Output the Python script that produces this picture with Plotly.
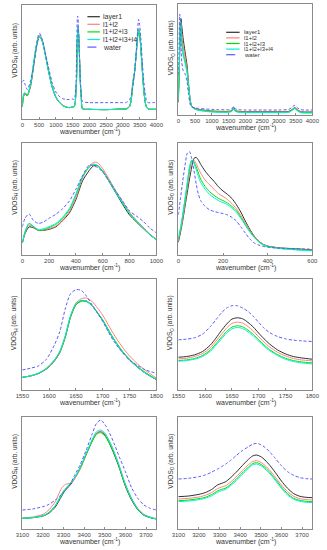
import plotly.graph_objects as go

W, H = 327, 550

SERIES = ["layer1", "l1+l2", "l1+l2+l3", "l1+l2+l3+l4", "water"]
COLORS = ["#2e2e2e", "#ff8080", "#00e000", "#00f0d8", "#5a5aff"]
DASHES = ["solid", "solid", "solid", "solid", "3px,2px"]

# ---------- Panel 1 : VDOS_H, 0-4000 ----------
H_FULL_X = [0, 40, 80, 150, 250, 350, 420, 480, 520, 600, 700, 800, 900, 1000, 1100, 1200, 1300, 1400, 1500, 1550,
            1580, 1600, 1617, 1629, 1640, 1650, 1660, 1670, 1682, 1700, 1718, 1736, 1760, 1800, 2000, 2500, 3000, 3100,
            3200, 3250, 3300, 3350, 3400, 3440, 3470, 3500, 3540, 3580, 3620, 3660, 3700, 3750, 3900, 4000]
H_FULL = {
    "layer1": [36, 68, 74, 70, 100, 168, 214, 240, 247, 232, 186, 134, 92, 65, 50, 41, 36, 34, 36, 38,
               50, 81, 111, 163, 225, 257, 275, 271, 250, 207, 149, 101, 65, 30, 29, 28, 30, 30,
               37, 56, 104, 138, 195, 244, 267, 256, 207, 148, 92, 55, 37, 30, 29, 29],
    "l1+l2": [36, 70, 76, 70, 103, 172, 220, 246, 252, 236, 190, 138, 95, 67, 52, 42, 36, 34, 36, 38,
              50, 82, 114, 167, 230, 262, 278, 274, 255, 213, 155, 106, 70, 33, 29, 28, 30, 30,
              39, 62, 116, 140, 193, 242, 266, 257, 212, 152, 96, 58, 38, 30, 29, 29],
    "l1+l2+l3": [36, 75, 78, 71, 106, 176, 220, 243, 248, 231, 186, 136, 94, 66, 51, 41, 36, 34, 36, 38,
                 50, 82, 113, 165, 227, 258, 274, 269, 248, 206, 149, 102, 66, 30, 29, 28, 30, 30,
                 37, 58, 108, 140, 195, 243, 265, 254, 208, 150, 94, 56, 37, 30, 29, 29],
    "l1+l2+l3+l4": [36, 76, 79, 73, 108, 178, 222, 244, 248, 230, 185, 135, 93, 66, 51, 41, 36, 34, 36, 38,
                    50, 83, 115, 168, 229, 259, 274, 268, 247, 205, 148, 101, 65, 30, 29, 28, 30, 30,
                    37, 58, 108, 140, 197, 247, 270, 258, 210, 151, 94, 56, 37, 30, 29, 29],
    "water": [111, 116, 104, 88, 116, 166, 216, 251, 256, 236, 191, 146, 106, 81, 68, 61, 59, 58, 60, 58,
              72, 100, 173, 245, 296, 308, 305, 283, 255, 208, 152, 110, 73, 52, 49, 49, 49, 49,
              58, 71, 98, 141, 201, 261, 298, 283, 238, 174, 119, 81, 58, 49, 49, 49],
}

# ---------- Panel 2 : VDOS_O, 0-4000 ----------
O_FULL_X = [0, 20, 40, 60, 80, 100, 140, 200, 260, 300, 360, 400, 500, 600, 800, 1000, 1200, 1500, 1600, 1650,
            1700, 1800, 2000, 2500, 3000, 3300, 3400, 3475, 3550, 3650, 3800, 4000]
O_FULL = {
    "layer1": [38, 104, 186, 262, 290, 270, 233, 190, 150, 100, 42, 27, 20, 17, 14, 12, 11, 11, 14, 22,
               14, 11, 10, 10, 10, 11, 17, 22, 16, 10, 9, 9],
    "l1+l2": [43, 109, 201, 278, 273, 244, 209, 175, 138, 96, 42, 27, 19, 16, 13, 11, 10, 10, 13, 20,
              13, 10, 9, 9, 9, 10, 16, 21, 15, 9, 8, 8],
    "l1+l2+l3": [48, 120, 211, 283, 262, 226, 189, 162, 132, 91, 40, 26, 18, 15, 12, 10, 9, 9, 12, 19,
                 12, 9, 8, 8, 8, 9, 15, 20, 14, 8, 7, 7],
    "l1+l2+l3+l4": [50, 123, 216, 283, 254, 216, 181, 156, 127, 89, 39, 25, 17, 14, 11, 9, 8, 8, 11, 18,
                    11, 8, 7, 7, 7, 8, 14, 19, 13, 7, 6, 6],
    "water": [120, 222, 303, 288, 211, 162, 135, 124, 101, 65, 30, 24, 21, 20, 18, 17, 16, 16, 19, 26,
              19, 16, 15, 15, 15, 17, 24, 29, 22, 16, 15, 15],
}

# ---------- Panel 3 : VDOS_H, 0-1000 ----------
H_LOW_X = [0, 20, 50, 80, 120, 160, 200, 250, 300, 350, 400, 450, 500, 530, 560, 600, 650, 700, 750, 800, 850, 900, 950, 1000]
H_LOW = {
    "layer1": [35, 62, 82, 80, 72, 72, 75, 82, 100, 122, 162, 217, 247, 260, 261, 245, 213, 180, 147, 117, 97, 78, 60, 45],
    "l1+l2": [35, 64, 87, 82, 72, 73, 77, 84, 102, 126, 168, 225, 260, 270, 270, 252, 220, 186, 155, 125, 102, 82, 62, 46],
    "l1+l2+l3": [35, 67, 92, 84, 72, 74, 80, 89, 107, 132, 175, 229, 257, 265, 262, 245, 215, 182, 152, 122, 100, 80, 60, 45],
    "l1+l2+l3+l4": [35, 68, 92, 85, 74, 77, 83, 92, 110, 135, 178, 231, 258, 264, 260, 244, 214, 181, 151, 121, 99, 79, 60, 45],
    "water": [82, 107, 120, 102, 92, 97, 107, 119, 135, 157, 192, 232, 263, 260, 256, 242, 215, 185, 157, 129, 114, 99, 79, 65],
}

# ---------- Panel 4 : VDOS_O, 0-600 ----------
O_LOW_X = [0, 10, 20, 30, 40, 50, 60, 70, 80, 90, 100, 120, 140, 160, 180, 200, 220, 240, 260, 280, 300, 320, 340, 360,
           380, 400, 450, 500, 550, 600]
O_LOW = {
    "layer1": [37, 67, 102, 142, 182, 222, 257, 282, 285, 277, 265, 245, 229, 215, 199, 187, 177, 165, 147, 125, 99, 75,
               55, 41, 31, 26, 21, 19, 17, 15],
    "l1+l2": [42, 72, 107, 152, 197, 239, 272, 277, 267, 252, 239, 219, 205, 192, 179, 171, 162, 150, 135, 115, 94, 72,
              54, 41, 31, 26, 21, 18, 16, 14],
    "l1+l2+l3": [47, 77, 117, 162, 207, 252, 277, 272, 257, 239, 222, 200, 185, 174, 165, 159, 152, 142, 129, 110, 89, 69,
                 52, 39, 30, 25, 20, 17, 15, 13],
    "l1+l2+l3+l4": [49, 80, 120, 165, 212, 257, 277, 267, 249, 229, 212, 192, 177, 167, 159, 153, 147, 137, 124, 107, 87,
                    67, 51, 38, 29, 24, 19, 16, 14, 12],
    "water": [117, 167, 217, 262, 297, 302, 282, 247, 207, 177, 159, 142, 132, 127, 124, 121, 117, 110, 99, 82, 64, 47,
              35, 29, 25, 23, 20, 19, 18, 17],
}

# ---------- Panel 5 / 6 : 1550-1800 ----------
BEND_X = [1550, 1565, 1580, 1595, 1610, 1620, 1630, 1640, 1650, 1660, 1670, 1680, 1690, 1700, 1710, 1720, 1735, 1750,
          1765, 1780, 1800]
H_BEND = {
    "layer1": [38, 42, 49, 63, 87, 112, 157, 218, 255, 267, 266, 253, 231, 208, 180, 153, 118, 90, 68, 50, 31],
    "l1+l2": [38, 42, 50, 64, 88, 113, 158, 221, 260, 273, 275, 265, 246, 224, 196, 168, 132, 102, 78, 58, 36],
    "l1+l2+l3": [38, 42, 50, 65, 90, 115, 160, 220, 255, 265, 264, 252, 232, 210, 182, 155, 120, 92, 70, 52, 32],
    "l1+l2+l3+l4": [38, 42, 50, 65, 90, 116, 162, 223, 258, 268, 266, 252, 231, 208, 180, 153, 118, 90, 68, 50, 32],
    "water": [60, 65, 72, 92, 135, 175, 242, 288, 300, 298, 280, 255, 232, 205, 175, 148, 115, 90, 73, 60, 50],
}
O_BEND = {
    "layer1": [98, 100, 105, 115, 135, 155, 177, 197, 212, 216, 213, 202, 188, 170, 153, 138, 120, 108, 100, 96, 92],
    "l1+l2": [93, 95, 100, 109, 127, 146, 166, 185, 199, 203, 200, 190, 176, 159, 143, 129, 113, 102, 94, 90, 87],
    "l1+l2+l3": [88, 90, 94, 103, 120, 138, 157, 175, 188, 192, 189, 179, 166, 150, 135, 121, 106, 95, 88, 84, 81],
    "l1+l2+l3+l4": [86, 88, 92, 100, 116, 134, 152, 170, 183, 187, 184, 174, 161, 146, 131, 118, 103, 92, 85, 81, 78],
    "water": [150, 152, 156, 167, 190, 210, 230, 245, 252, 252, 245, 235, 220, 202, 185, 172, 160, 153, 149, 147, 145],
}

# ---------- Panel 7 / 8 : 3100-3750 ----------
STRETCH_X = [3100, 3150, 3200, 3230, 3260, 3290, 3310, 3330, 3350, 3380, 3410, 3440, 3460, 3480, 3500, 3520, 3545, 3570,
             3600, 3630, 3660, 3690, 3720, 3750]
H_STRETCH = {
    "layer1": [32, 34, 39, 48, 66, 98, 118, 130, 148, 182, 225, 266, 287, 292, 282, 260, 225, 184, 128, 87, 58, 41, 34, 30],
    "l1+l2": [33, 36, 44, 58, 82, 122, 134, 137, 147, 178, 222, 265, 288, 294, 286, 266, 232, 190, 134, 92, 62, 44, 36, 31],
    "l1+l2+l3": [32, 34, 40, 50, 70, 104, 122, 135, 150, 182, 224, 264, 284, 289, 280, 260, 227, 187, 132, 90, 60, 42, 35, 30],
    "l1+l2+l3+l4": [32, 34, 40, 50, 70, 102, 120, 134, 150, 184, 228, 270, 292, 297, 288, 267, 232, 190, 134, 91, 60, 42, 35, 30],
    "water": [57, 60, 67, 74, 87, 104, 117, 132, 157, 192, 237, 287, 317, 327, 314, 292, 257, 217, 172, 124, 92, 72, 62, 57],
}
O_STRETCH = {
    "layer1": [97, 99, 104, 109, 118, 132, 137, 142, 152, 170, 190, 209, 219, 222, 217, 207, 190, 170, 144, 122, 106, 98, 95, 94],
    "l1+l2": [90, 92, 96, 101, 109, 121, 126, 130, 139, 156, 175, 193, 202, 205, 200, 191, 175, 156, 132, 112, 98, 91, 88, 87],
    "l1+l2+l3": [85, 87, 91, 95, 103, 114, 119, 123, 132, 149, 168, 186, 196, 199, 194, 185, 169, 150, 126, 106, 92, 86, 83, 82],
    "l1+l2+l3+l4": [82, 84, 88, 92, 99, 110, 115, 119, 128, 145, 164, 182, 192, 195, 190, 181, 165, 146, 122, 102, 89, 83, 80, 79],
    "water": [150, 152, 157, 162, 170, 180, 187, 195, 204, 220, 235, 247, 254, 257, 253, 245, 230, 212, 190, 172, 161, 154, 151, 150],
}

# panel definitions: (x, data, xrange, yrange, tickvals, species)
PANELS = [
    (H_FULL_X, H_FULL, [0, 4000], [0, 341], list(range(0, 4001, 500)), "H"),
    (O_FULL_X, O_FULL, [0, 4000], [0, 334], list(range(0, 4001, 500)), "O"),
    (H_LOW_X, H_LOW, [0, 1000], [0, 327], list(range(0, 1001, 200)), "H"),
    (O_LOW_X, O_LOW, [0, 600], [0, 327], list(range(0, 601, 200)), "O"),
    (BEND_X, H_BEND, [1550, 1800], [0, 332], list(range(1550, 1801, 50)), "H"),
    (BEND_X, O_BEND, [1550, 1800], [0, 332], list(range(1550, 1801, 50)), "O"),
    (STRETCH_X, H_STRETCH, [3100, 3750], [0, 336], list(range(3100, 3701, 100)), "H"),
    (STRETCH_X, O_STRETCH, [3100, 3750], [0, 336], list(range(3100, 3701, 100)), "O"),
]

# pixel boxes (left, right, top, bottom)
BOXES = [
    (16, 156, 5, 119), (179, 319, 4, 115),
    (16, 156, 143, 255), (179, 319, 143, 255),
    (16, 156, 279, 390), (179, 319, 279, 390),
    (16, 156, 417, 529), (179, 319, 417, 529),
]

FONT = "Arial, Liberation Sans, sans-serif"
AX_COL = "#8a8a8a"

fig = go.Figure()
layout = dict(width=W, height=H, margin=dict(l=0, r=0, t=0, b=0), paper_bgcolor="white",
              plot_bgcolor="white", showlegend=False, font=dict(family=FONT, size=6, color="#333"))
annotations = []
shapes = []

for i, (xs, data, xr, yr, tv, sp) in enumerate(PANELS):
    n = i + 1
    xa = "x" if n == 1 else f"x{n}"
    ya = "y" if n == 1 else f"y{n}"
    for s, c, d in zip(SERIES, COLORS, DASHES):
        fig.add_trace(go.Scatter(x=xs, y=data[s], xaxis=xa, yaxis=ya, mode="lines", name=s,
                                 line=dict(color=c, width=1, dash=d, shape="spline", smoothing=0.7),
                                 hoverinfo="skip"))
    l, r, t, b = BOXES[i]
    layout[f"xaxis{'' if n == 1 else n}"] = dict(
        domain=[l / W, r / W], anchor=ya, range=xr, tickvals=tv, showline=True, linecolor=AX_COL,
        linewidth=1, mirror=True, ticks="inside", ticklen=2, tickcolor=AX_COL, showgrid=False,
        zeroline=False, tickfont=dict(size=6, color="#444"), fixedrange=True)
    layout[f"yaxis{'' if n == 1 else n}"] = dict(
        domain=[1 - b / H, 1 - t / H], anchor=xa, range=yr, showticklabels=False, ticks="",
        showline=True, linecolor=AX_COL, linewidth=1, mirror=True, showgrid=False, zeroline=False,
        fixedrange=True)
    cx = (l + r) / 2
    annotations.append(dict(text="wavenumber (cm<sup>-1</sup>)", x=cx / W, y=1 - (b + 12) / H,
                            xref="paper", yref="paper", showarrow=False,
                            font=dict(size=7, color="#333"), xanchor="center", yanchor="middle"))
    annotations.append(dict(text=f"VDOS<sub>{sp}</sub> (arb. units)", x=(l - 8) / W, y=1 - ((t + b) / 2 - 12) / H,
                            xref="paper", yref="paper", showarrow=False, textangle=-90,
                            font=dict(size=6.5, color="#333"), xanchor="center", yanchor="middle"))

# legends drawn manually (panel 1 and panel 2)
LEG = [(84, 97, 98, 16.7, 7.6, 7), (229, 243, 245, 32.3, 5.6, 6)]
for (x0, x1, tx, y0, dy, fs) in LEG:
    for k, (s, c, d) in enumerate(zip(SERIES, COLORS, DASHES)):
        yy = y0 + k * dy
        shapes.append(dict(type="line", xref="paper", yref="paper", x0=x0 / W, x1=x1 / W,
                           y0=1 - yy / H, y1=1 - yy / H,
                           line=dict(color=c, width=1.2, dash="dash" if d != "solid" else "solid")))
        annotations.append(dict(text=s, x=tx / W, y=1 - yy / H, xref="paper", yref="paper",
                                showarrow=False, xanchor="left", yanchor="middle",
                                font=dict(size=fs, color="#333")))

layout["annotations"] = annotations
layout["shapes"] = shapes
fig.update_layout(**layout)
fig.write_html("out.html", config={"displayModeBar": False},
               post_script="document.body.style.margin='0';document.body.style.overflow='hidden';")
